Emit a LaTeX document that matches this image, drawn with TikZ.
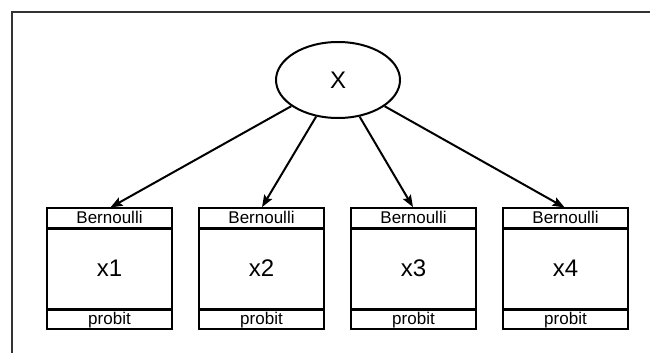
\documentclass[tikz,border=0pt]{standalone}
\usepackage{fontspec}
\setmainfont{Liberation Sans}
\usetikzlibrary{arrows.meta,positioning,shapes.geometric}
\tikzset{
  latent/.style  = {draw, ellipse, line width=2pt, minimum width=124pt, minimum height=76pt,
                    inner sep=0pt, font=\fontsize{24}{24}\selectfont},
  observed/.style = {draw, rectangle, line width=2pt, outer sep=0pt, minimum width=125pt,
                    minimum height=121pt, inner sep=0pt, font=\fontsize{24}{24}\selectfont},
  dist/.style    = {rectangle, outer sep=0pt, inner sep=0pt, minimum width=125pt, minimum height=20pt,
                    text height=12.5pt, text depth=1.5pt, font=\fontsize{17}{17}\selectfont},
  sep/.style     = {line width=3pt},
  post/.style    = {-{Stealth[length=12pt,width=9pt,inset=2pt]}, shorten >=1pt, line width=2pt},
  frame/.style   = {black!80, line width=1.5pt}
}

\begin{document}
\begin{tikzpicture}[x=1pt,y=-1pt]
  \useasboundingbox (0,0) rectangle (650,353);
  \draw[frame] (12,353) -- (12,12) -- (650,12);

  \node[latent] (X) at (338,80) {X};
  \node[observed] (x1) at (109.5,268.5) {x1};
  \node[observed, right=27pt of x1] (x2) {x2};
  \node[observed, right=27pt of x2] (x3) {x3};
  \node[observed, right=27pt of x3] (x4) {x4};

  \foreach \i in {1,...,4} {
    \node[dist, anchor=north] (b\i) at (x\i.north) {Bernoulli};
    \node[dist, anchor=south] (p\i) at (x\i.south) {probit};
    \draw[sep] (b\i.south west) -- (b\i.south east);
    \draw[sep] (p\i.north west) -- (p\i.north east);
    \draw[post] (X) -- (x\i.north);
  }
\end{tikzpicture}
\end{document}
